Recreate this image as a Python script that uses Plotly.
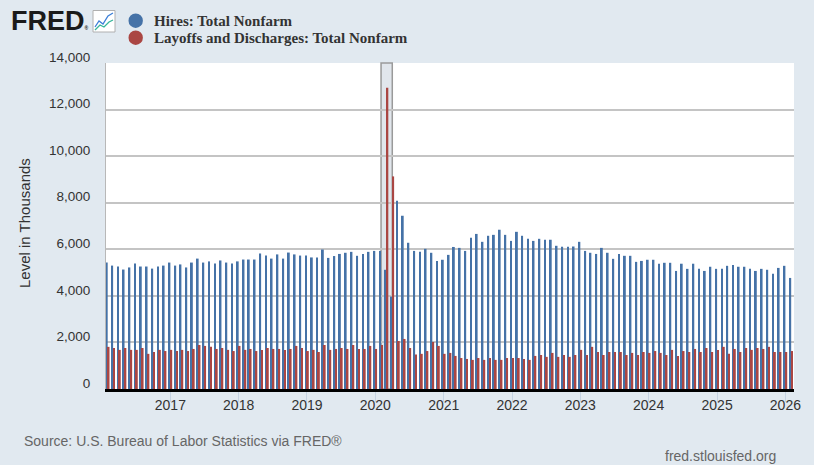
import pandas as pd
import plotly.graph_objects as go

# monthly observations, thousands, Feb 2016 .. Feb 2026
start_month = "2016-02-01"
hires = [
    5430, 5300, 5260, 5130, 5220, 5390, 5260, 5260, 5170, 5260, 5300,        # 2016
    5430, 5300, 5350, 5220, 5430, 5600, 5430, 5480, 5390, 5520, 5430, 5390,  # 2017
    5480, 5560, 5560, 5560, 5820, 5730, 5600, 5780, 5600, 5860, 5780, 5730,  # 2018
    5730, 5650, 5650, 5990, 5630, 5710, 5800, 5850, 5890, 5720, 5800, 5890,  # 2019
    5930, 5930, 5120, 3970, 8080, 7440, 6280, 5930, 5890, 6020, 5850, 5500,  # 2020
    5550, 5760, 6100, 6060, 5930, 6500, 6660, 6320, 6580, 6620, 6840, 6620,  # 2021
    6360, 6750, 6580, 6450, 6360, 6450, 6410, 6410, 6150, 6110, 6110, 6120,  # 2022
    6320, 5930, 5850, 5800, 6060, 5850, 5590, 5800, 5720, 5720, 5460, 5500,  # 2023
    5550, 5550, 5380, 5420, 5420, 5070, 5380, 5160, 5380, 5160, 5070, 5250,  # 2024
    5160, 5160, 5290, 5330, 5250, 5250, 5160, 5070, 5160, 5120, 4950, 5200,  # 2025
    5290, 4770,                                                              # 2026
]
layoffs = [
    1810, 1760, 1680, 1760, 1680, 1680, 1760, 1510, 1590, 1680, 1630,        # 2016
    1680, 1630, 1680, 1630, 1720, 1890, 1850, 1810, 1720, 1760, 1680, 1630,  # 2017
    1850, 1680, 1720, 1630, 1680, 1760, 1720, 1720, 1680, 1720, 1850, 1760,  # 2018
    1630, 1680, 1590, 1890, 1680, 1720, 1760, 1720, 1890, 1720, 1720, 1850,  # 2019
    1720, 1890, 12940, 9130, 2060, 2150, 1760, 1480, 1510, 1630, 2020, 1850, # 2020
    1510, 1550, 1420, 1330, 1290, 1250, 1330, 1250, 1330, 1250, 1250, 1330,  # 2021
    1330, 1330, 1290, 1250, 1420, 1460, 1380, 1550, 1380, 1460, 1380, 1460,  # 2022
    1680, 1460, 1810, 1590, 1460, 1590, 1590, 1590, 1460, 1550, 1460, 1590,  # 2023
    1550, 1630, 1550, 1460, 1680, 1420, 1630, 1590, 1720, 1590, 1760, 1590,  # 2024
    1680, 1810, 1510, 1720, 1590, 1760, 1680, 1760, 1720, 1810, 1590, 1590,  # 2025
    1590, 1630,                                                              # 2026
]
recession = ("2020-02-01", "2020-04-01")
names = ["Hires: Total Nonfarm", "Layoffs and Discharges: Total Nonfarm"]
colors = ["#4572a7", "#aa4643"]

months = pd.date_range(start_month, periods=len(hires), freq="MS")

W, H = 814, 465
L, R, T, B = 106, 20, 63, 76
pw, ph = W - L - R, H - T - B


def px(x, y):
    # pixel position -> paper coords (for decorations only)
    return (x - L) / pw, (H - B - y) / ph


fig = go.Figure()
fig.add_trace(go.Bar(x=months, y=hires, name=names[0], marker=dict(color=colors[0], line_width=0)))
fig.add_trace(go.Bar(x=months, y=layoffs, name=names[1], marker=dict(color=colors[1], line_width=0)))

shapes = [dict(type="rect", xref="x", yref="paper", x0=recession[0], x1=recession[1], y0=0, y1=1,
               fillcolor="#e1e6ec", line=dict(color="#9a9a9a", width=1.5), layer="below")]
# legend dots
for i, c in enumerate(colors):
    cy = 20.7 + 17 * i
    x0, y0 = px(128.5, cy - 7.2)
    x1, y1 = px(142.9, cy + 7.2)
    shapes.append(dict(type="circle", xref="paper", yref="paper", x0=x0, x1=x1, y0=y0, y1=y1,
                       fillcolor=c, line_width=0))
# small FRED graph icon
x0, y0 = px(93, 10.5)
x1, y1 = px(115, 32)
shapes.append(dict(type="rect", xref="paper", yref="paper", x0=x0, x1=x1, y0=y0, y1=y1,
                   fillcolor="white", line=dict(color="#b0b0b0", width=1)))
for pts, c in [([(95, 27), (99, 21), (103, 24), (108, 16), (113, 13)], "#3c7fd8"),
               ([(95, 30), (100, 25), (104, 27), (109, 22), (113, 20)], "#38b59a")]:
    pp = [px(a, b) for a, b in pts]
    path = "M " + " L ".join(f"{a},{b}" for a, b in pp)
    shapes.append(dict(type="path", xref="paper", yref="paper", path=path,
                       line=dict(color=c, width=1.3)))

annotations = []
for i, n in enumerate(names):
    ax, ay = px(152, 21 + 17 * i)
    annotations.append(dict(text=n, x=ax, y=ay, xref="paper", yref="paper", xanchor="left",
                            yanchor="middle", showarrow=False,
                            font=dict(family="Liberation Serif", size=15, color="#333333", weight="bold")))
ax, ay = px(9, 21)
annotations.append(dict(text="FRED<span style='font-size:5px'>®</span>", x=ax, y=ay,
                        xref="paper", yref="paper", xanchor="left",
                        yanchor="middle", showarrow=False,
                        font=dict(family="Liberation Sans", size=27, color="#1a1a1a", weight="bold")))
ax, ay = px(24, 223)
annotations.append(dict(text="Level in Thousands", x=ax, y=ay, xref="paper", yref="paper",
                        textangle=-90, showarrow=False, xanchor="center", yanchor="middle",
                        font=dict(family="Liberation Sans", size=15, color="#333333")))
ax, ay = px(22, 441)
annotations.append(dict(text="Source: U.S. Bureau of Labor Statistics via FRED®", x=ax, y=ay,
                        xref="paper", yref="paper", xanchor="left", yanchor="middle", showarrow=False,
                        font=dict(family="Liberation Sans", size=14, color="#666666")))
ax, ay = px(778, 456)
annotations.append(dict(text="fred.stlouisfed.org", x=ax, y=ay, xref="paper", yref="paper",
                        xanchor="right", yanchor="middle", showarrow=False,
                        font=dict(family="Liberation Sans", size=14, color="#666666")))

fig.update_layout(
    width=W, height=H,
    margin=dict(l=L, r=R, t=T, b=B),
    paper_bgcolor="#e1e9f0",
    plot_bgcolor="white",
    barmode="group",
    bargap=0.3,
    bargroupgap=0,
    showlegend=False,
    shapes=shapes,
    annotations=annotations,
    font=dict(family="Liberation Sans", color="#333333"),
)
fig.update_xaxes(
    type="date",
    range=["2016-01-23", "2026-02-16"],
    tick0="2017-01-01", dtick="M12", tickformat="%Y",
    ticks="outside", ticklen=10, tickcolor="#c5d3e2", tickwidth=1,
    ticklabelstandoff=-9,
    tickfont=dict(size=14, color="#333333"),
    showgrid=False, showline=True, linecolor="black", linewidth=2.5,
    zeroline=False,
)
fig.update_yaxes(
    range=[0, 14000], dtick=2000, tickformat=",",
    ticks="", ticklabelstandoff=12, ticklabelshift=-6,
    tickfont=dict(size=13.5, color="#333333"),
    showgrid=True, gridcolor="#c4c4c4", gridwidth=1.5,
    showline=True, linecolor="#b8b8b8", linewidth=1,
    zeroline=False,
)

fig.write_html(
    "out.html",
    config={"displayModeBar": False},
    post_script="document.body.style.margin='0';document.body.style.background='#e1e9f0';",
)
